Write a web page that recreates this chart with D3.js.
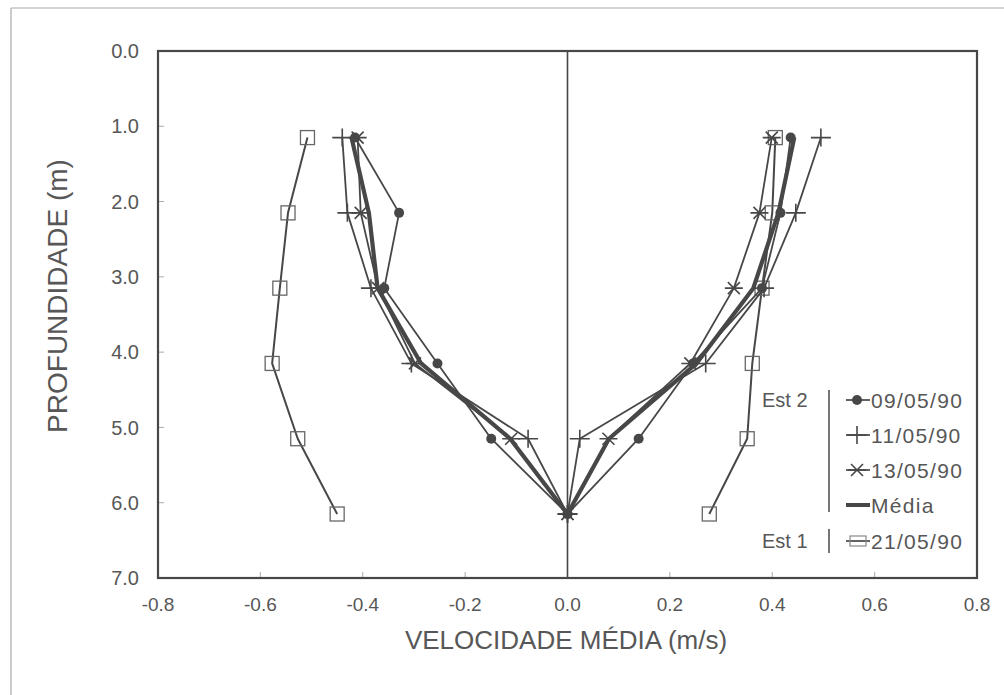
<!DOCTYPE html>
<html>
<head>
<meta charset="utf-8">
<script src="https://cdn.jsdelivr.net/npm/d3@7"></script>
<style>
  html, body { margin: 0; padding: 0; background: #fff; }
  svg { display: block; }
  text { font-family: "Liberation Sans", Arial, Helvetica, sans-serif; fill: #575757; }
</style>
</head>
<body>
<svg id="chart" width="1004" height="695"></svg>
<script>
// Measurement depths (m)
const depths = [1.15, 2.15, 3.15, 4.15, 5.15, 6.15];

// Est 2 – 09/05/90
const v0905Left  = [-0.415, -0.329, -0.358, -0.254, -0.149, 0];
const v0905Right = [0.436, 0.416, 0.380, 0.245, 0.139, 0];
// Est 2 – 11/05/90
const v1105Left  = [-0.440, -0.430, -0.384, -0.305, -0.077, 0];
const v1105Right = [0.495, 0.446, 0.384, 0.270, 0.024, 0];
// Est 2 – 13/05/90
const v1305Left  = [-0.410, -0.404, -0.370, -0.298, -0.110, 0];
const v1305Right = [0.399, 0.375, 0.325, 0.240, 0.080, 0];
// Est 2 – Média
const mediaLeft  = [-0.422, -0.388, -0.371, -0.286, -0.112, 0];
const mediaRight = [0.443, 0.412, 0.363, 0.252, 0.081, 0];
// Est 1 – 21/05/90
const v2105Left  = [-0.508, -0.546, -0.562, -0.577, -0.527, -0.450];
const v2105Right = [0.406, 0.400, 0.380, 0.361, 0.351, 0.277];

const xTicks = [-0.8, -0.6, -0.4, -0.2, 0.0, 0.2, 0.4, 0.6, 0.8];
const yTicks = [0, 1, 2, 3, 4, 5, 6, 7];

const legendItems = [
  { label: "09/05/90", marker: "dot" },
  { label: "11/05/90", marker: "plus" },
  { label: "13/05/90", marker: "star" },
  { label: "Média",    marker: "thick" },
  { label: "21/05/90", marker: "square" }
];

const ink = "#474747";
const svg = d3.select("#chart");
// one decimal, plain hyphen for negatives
const fmt = d => d.toFixed(1);

// page frame
svg.append("line").attr("x1", 11).attr("x2", 1004).attr("y1", 8).attr("y2", 8)
  .attr("stroke", "#aaa").attr("stroke-width", 1.2);
svg.append("line").attr("x1", 11).attr("x2", 11).attr("y1", 8).attr("y2", 695)
  .attr("stroke", "#aaa").attr("stroke-width", 1.2);

const x = d3.scaleLinear().domain([-0.8, 0.8]).range([158, 977]);
const y = d3.scaleLinear().domain([0, 7]).range([51, 578]);

// inner tick marks
const tickG = svg.append("g");
tickG.selectAll("line.yt").data(yTicks.slice(1, -1)).join("line")
  .attr("x1", x(-0.8)).attr("x2", x(-0.8) + 6)
  .attr("y1", d => y(d)).attr("y2", d => y(d))
  .attr("stroke", "#aaa").attr("stroke-width", 1);
tickG.selectAll("line.xt").data(xTicks.slice(1, -1)).join("line")
  .attr("x1", d => x(d)).attr("x2", d => x(d))
  .attr("y1", y(7)).attr("y2", y(7) - 6)
  .attr("stroke", "#aaa").attr("stroke-width", 1);

// tick labels
svg.append("g").selectAll("text").data(yTicks).join("text")
  .attr("x", 139).attr("y", d => y(d)).attr("dy", "0.36em")
  .attr("text-anchor", "end").attr("font-size", 20)
  .text(fmt);
svg.append("g").selectAll("text").data(xTicks).join("text")
  .attr("x", d => x(d)).attr("y", 611)
  .attr("text-anchor", "middle").attr("font-size", 19)
  .text(fmt);

// axis titles
svg.append("text").attr("x", 566).attr("y", 649)
  .attr("text-anchor", "middle").attr("font-size", 26)
  .text("VELOCIDADE MÉDIA (m/s)");
svg.append("text")
  .attr("transform", "translate(67,296) rotate(-90)")
  .attr("text-anchor", "middle").attr("font-size", 28)
  .text("PROFUNDIDADE (m)");

// zero line
svg.append("line").attr("x1", x(0)).attr("x2", x(0)).attr("y1", y(0)).attr("y2", y(7))
  .attr("stroke", ink).attr("stroke-width", 1.6);

// plot frame
svg.append("rect")
  .attr("x", x(-0.8)).attr("y", y(0))
  .attr("width", x(0.8) - x(-0.8)).attr("height", y(7) - y(0))
  .attr("fill", "none").attr("stroke", ink).attr("stroke-width", 2.2);

const line = d3.line().x(d => x(d[0])).y(d => y(d[1]));
const pairs = vals => vals.map((v, i) => [v, depths[i]]);

const series = [
  { left: v2105Left, right: v2105Right, marker: "square", width: 2 },
  { left: v1105Left, right: v1105Right, marker: "plus", width: 1.8 },
  { left: v1305Left, right: v1305Right, marker: "star", width: 1.8 },
  { left: v0905Left, right: v0905Right, marker: "dot", width: 1.8 },
  { left: mediaLeft, right: mediaRight, marker: null, width: 4.2 }
];

function drawMarker(g, type, cx, cy) {
  if (type === "dot") {
    g.append("circle").attr("cx", cx).attr("cy", cy).attr("r", 5).attr("fill", ink);
  } else if (type === "plus") {
    g.append("path").attr("d", `M${cx - 10},${cy}H${cx + 10}M${cx},${cy - 9}V${cy + 9}`)
      .attr("stroke", ink).attr("stroke-width", 1.6).attr("fill", "none");
  } else if (type === "star") {
    const a = 6;
    g.append("path")
      .attr("d", `M${cx - 9},${cy}H${cx + 9}M${cx - a},${cy - a}L${cx + a},${cy + a}M${cx - a},${cy + a}L${cx + a},${cy - a}`)
      .attr("stroke", ink).attr("stroke-width", 1.6).attr("fill", "none");
  } else if (type === "square") {
    g.append("rect").attr("x", cx - 7).attr("y", cy - 7).attr("width", 14).attr("height", 14)
      .attr("fill", "none").attr("stroke", "#666").attr("stroke-width", 1.3);
  }
}

const dataG = svg.append("g");
series.forEach(s => {
  [s.left, s.right].forEach(vals => {
    const pts = pairs(vals);
    dataG.append("path").attr("d", line(pts))
      .attr("fill", "none").attr("stroke", ink)
      .attr("stroke-width", s.width).attr("stroke-linejoin", "round");
    if (s.marker) {
      const mg = dataG.append("g");
      pts.forEach(p => drawMarker(mg, s.marker, x(p[0]), y(p[1])));
    }
  });
});

// legend
const lg = svg.append("g");
const rowY = [400, 435, 470, 505, 541];
lg.append("text").attr("x", 762).attr("y", rowY[0]).attr("dy", "0.36em")
  .attr("font-size", 20).text("Est 2");
lg.append("text").attr("x", 762).attr("y", rowY[4]).attr("dy", "0.36em")
  .attr("font-size", 20).text("Est 1");
lg.append("line").attr("x1", 829).attr("x2", 829).attr("y1", 390).attr("y2", 512)
  .attr("stroke", ink).attr("stroke-width", 1.5);
lg.append("line").attr("x1", 829).attr("x2", 829).attr("y1", 529).attr("y2", 553)
  .attr("stroke", ink).attr("stroke-width", 1.5);
legendItems.forEach((it, i) => {
  const cy = rowY[i];
  const g = lg.append("g");
  g.append("line").attr("x1", 846).attr("x2", 870).attr("y1", cy).attr("y2", cy)
    .attr("stroke", ink).attr("stroke-width", it.marker === "thick" ? 4 : 1.7);
  if (it.marker === "square") {
    g.append("rect").attr("x", 850).attr("y", cy - 5).attr("width", 16).attr("height", 10)
      .attr("fill", "none").attr("stroke", "#888").attr("stroke-width", 1.2);
  } else if (it.marker !== "thick") {
    drawMarker(g, it.marker, 857, cy);
  }
  g.append("text").attr("x", 871).attr("y", cy).attr("dy", "0.36em")
    .attr("font-size", 21).attr("letter-spacing", 1.3).text(it.label);
});
</script>
</body>
</html>
